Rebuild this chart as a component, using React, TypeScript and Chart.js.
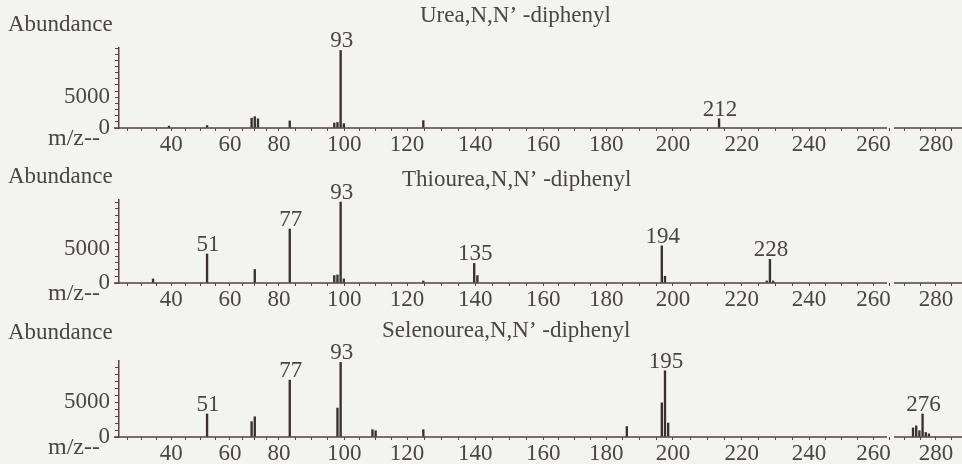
import React, { useEffect, useRef } from 'react';
import { Chart, registerables } from 'chart.js';

Chart.register(...registerables);

// ---------- data ----------
// printed m/z tick labels, and where each one sits on the peaks' m/z scale
const mzTickLabels = [40, 60, 80, 100, 120, 140, 160, 180, 200, 220, 240, 260, 280];
const mzTickPositions = [39.7, 58.2, 73.6, 94.1, 113.9, 135.3, 156.7, 176.5, 197.5, 219.1, 240.3, 260.6, 280.2];
const abundanceTickLabels = [0, 5000];

const ureaTitle = 'Urea,N,N’ -diphenyl';
const ureaMz = [39, 51, 65, 66, 67, 77, 91, 92, 93, 94, 119, 212];
const ureaAbundance = [300, 400, 1600, 1850, 1500, 1150, 800, 900, 12600, 700, 1200, 1500];
const ureaLabeled = [93, 212];

const thioTitle = 'Thiourea,N,N’ -diphenyl';
const thioMz = [34, 51, 66, 77, 91, 92, 93, 94, 119, 135, 136, 194, 195, 227, 228, 229];
const thioAbundance = [600, 4300, 2000, 8000, 1100, 1200, 12000, 600, 300, 2900, 1100, 5500, 1000, 300, 3500, 300];
const thioLabeled = [51, 77, 93, 135, 194, 228];

const selenoTitle = 'Selenourea,N,N’ -diphenyl';
const selenoMz = [51, 65, 66, 77, 92, 93, 103, 104, 119, 183, 194, 195, 196, 273, 274, 275, 276, 277, 278];
const selenoAbundance = [3300, 2200, 2900, 8150, 4150, 10700, 1050, 900, 1050, 1500, 4900, 9500, 2000, 1300, 1600, 900, 3300, 650, 450];
const selenoLabeled = [51, 77, 93, 195, 276];

// ---------- styles ----------
const FONT = '"Liberation Serif", "DejaVu Serif", serif';
const TEXT = '#4b4545';
const BAR = '#3a3030';
const AXIS = '#5e4242';
const BG = '#f3f3f0';
const X_MIN = 23.3;
const X_MAX = 288.4;
const Y_STEP = 1000;

// minor ticks: four intervals between printed labels
function buildXTicks() {
  const out: { value: number; label: string }[] = [];
  const p = mzTickPositions;
  const step0 = (p[1] - p[0]) / 4;
  for (let k = 3; k >= 1; k--) {
    const v = p[0] - k * step0;
    if (v > X_MIN) out.push({ value: v, label: '' });
  }
  for (let i = 0; i < p.length; i++) {
    out.push({ value: p[i], label: String(mzTickLabels[i]) });
    if (i < p.length - 1) {
      const st = (p[i + 1] - p[i]) / 4;
      for (let k = 1; k < 4; k++) out.push({ value: p[i] + k * st, label: '' });
    }
  }
  const last = p[p.length - 1];
  const stL = (p[p.length - 1] - p[p.length - 2]) / 4;
  for (let k = 1; k <= 3; k++) {
    const v = last + k * stL;
    if (v < X_MAX) out.push({ value: v, label: '' });
  }
  return out;
}
const xTicks = buildXTicks();

type Panel = {
  title: string;
  mz: number[];
  abundance: number[];
  labeled: number[];
  yMax: number;
  canvasTop: number;
  height: number;
  areaTop: number;
  areaBottom: number;
  titleX: number;
  titleBaseline: number;
  abundanceBaseline: number;
};

const panels: Panel[] = [
  { title: ureaTitle, mz: ureaMz, abundance: ureaAbundance, labeled: ureaLabeled, yMax: 13000,
    canvasTop: 0, height: 160, areaTop: 48, areaBottom: 128, titleX: 420, titleBaseline: 22, abundanceBaseline: 31 },
  { title: thioTitle, mz: thioMz, abundance: thioAbundance, labeled: thioLabeled, yMax: 12300,
    canvasTop: 152, height: 160, areaTop: 48, areaBottom: 131, titleX: 402, titleBaseline: 186, abundanceBaseline: 183 },
  { title: selenoTitle, mz: selenoMz, abundance: selenoAbundance, labeled: selenoLabeled, yMax: 10900,
    canvasTop: 313, height: 151, areaTop: 48, areaBottom: 124, titleX: 382, titleBaseline: 337, abundanceBaseline: 339 },
];

const annotatePlugin = {
  id: 'annotate',
  afterDraw(chart: any, _args: any, opts: any) {
    const p: Panel = opts.panel;
    if (!p) return;
    const ctx = chart.ctx as CanvasRenderingContext2D;
    const xs = chart.scales.x;
    const ys = chart.scales.y;
    const zero = ys.getPixelForValue(0);
    ctx.save();
    // x axis line with small break
    ctx.strokeStyle = AXIS;
    ctx.lineWidth = 1.5;
    ctx.beginPath();
    ctx.moveTo(114, zero);
    ctx.lineTo(887, zero);
    ctx.moveTo(894, zero);
    ctx.lineTo(962, zero);
    ctx.stroke();

    ctx.fillStyle = TEXT;
    ctx.font = `23px ${FONT}`;
    ctx.textBaseline = 'alphabetic';
    // peak labels
    ctx.textAlign = 'center';
    p.labeled.forEach((m) => {
      const i = p.mz.indexOf(m);
      if (i < 0) return;
      const px = xs.getPixelForValue(m);
      const py = ys.getPixelForValue(p.abundance[i]);
      ctx.fillText(String(m), px + 1, py - 3);
    });
    // texts
    ctx.textAlign = 'left';
    ctx.fillText('Abundance', 8, p.abundanceBaseline - p.canvasTop);
    ctx.fillText(p.title, p.titleX, p.titleBaseline - p.canvasTop);
    ctx.textAlign = 'right';
    ctx.font = `24px ${FONT}`;
    ctx.fillText('m/z--', 100, zero + 17);
    ctx.restore();
  },
};

function makeChart(canvas: HTMLCanvasElement, p: Panel) {
  const xAxisHeight = p.height - p.areaBottom;
  const yTicks: number[] = [];
  for (let v = 0; v <= p.yMax; v += Y_STEP) yTicks.push(v);
  return new Chart(canvas, {
    type: 'bar',
    data: {
      datasets: [
        {
          data: p.mz.map((m, i) => ({ x: m, y: p.abundance[i] })),
          backgroundColor: BAR,
          borderWidth: 0,
          barThickness: 1.7,
        } as any,
      ],
    },
    options: {
      responsive: false,
      animation: false,
      devicePixelRatio: 1,
      layout: { padding: { top: p.areaTop, left: 0, right: 0, bottom: 0 } },
      plugins: {
        legend: { display: false },
        tooltip: { enabled: false },
        annotate: { panel: p },
      } as any,
      scales: {
        x: {
          type: 'linear',
          min: X_MIN,
          max: X_MAX,
          offset: false,
          afterBuildTicks: (s: any) => {
            s.ticks = xTicks.map((t) => ({ value: t.value }));
          },
          ticks: {
            autoSkip: false,
            maxRotation: 0,
            minRotation: 0,
            padding: 0,
            color: TEXT,
            font: { family: FONT, size: 23 },
            callback: (_v: any, i: number) => (xTicks[i] ? xTicks[i].label : ''),
          },
          grid: { drawOnChartArea: false, drawTicks: true, tickLength: 3, color: AXIS, offset: false },
          border: { display: false },
          afterFit: (s: any) => {
            s.height = xAxisHeight;
          },
        },
        y: {
          min: 0,
          max: p.yMax,
          afterBuildTicks: (s: any) => {
            s.ticks = yTicks.map((v) => ({ value: v }));
          },
          ticks: {
            autoSkip: false,
            padding: 5,
            color: TEXT,
            font: { family: FONT, size: 23 },
            callback: (_v: any, i: number) => {
              const r = yTicks[i];
              return abundanceTickLabels.includes(r) ? String(r) : '';
            },
          },
          grid: { drawOnChartArea: false, drawTicks: true, tickLength: 4, color: AXIS },
          border: { display: true, color: AXIS, width: 1.5 },
          afterFit: (s: any) => {
            s.width = 119;
          },
        },
      } as any,
    },
    plugins: [annotatePlugin],
  } as any);
}

export default function App() {
  const refs = [useRef<HTMLCanvasElement>(null), useRef<HTMLCanvasElement>(null), useRef<HTMLCanvasElement>(null)];
  useEffect(() => {
    const charts = panels.map((p, i) => makeChart(refs[i].current as HTMLCanvasElement, p));
    return () => charts.forEach((c) => c.destroy());
  }, []);
  return (
    <div style={{ position: 'absolute', left: 0, top: 0, width: 962, height: 464, background: BG, overflow: 'hidden' }}>
      {panels.map((p, i) => (
        <canvas
          key={i}
          ref={refs[i]}
          width={962}
          height={p.height}
          style={{ position: 'absolute', left: 0, top: p.canvasTop, width: 962, height: p.height }}
        />
      ))}
    </div>
  );
}
